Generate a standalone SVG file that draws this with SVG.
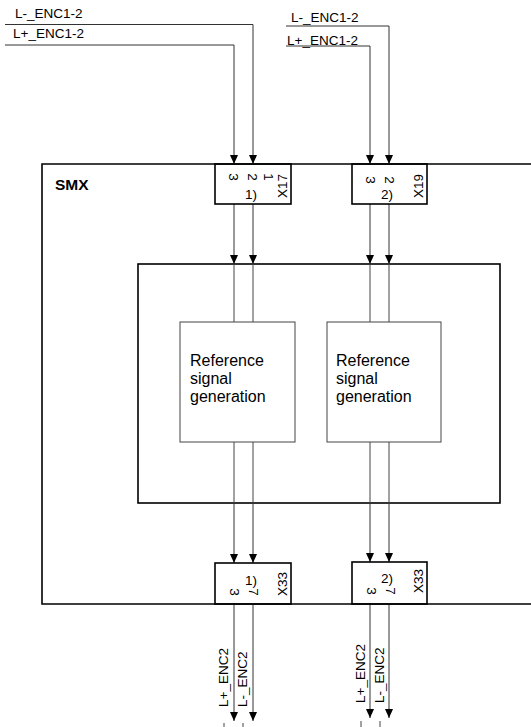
<svg xmlns="http://www.w3.org/2000/svg" width="531" height="727" viewBox="0 0 531 727">
<style>
text{font-family:"Liberation Sans",Arial,sans-serif;fill:#000}
.lbl{font-size:13.5px}
.pin{font-size:13.5px;text-anchor:middle;dominant-baseline:central}
.box{fill:none;stroke:#000;stroke-width:1.6}
.rbox{fill:#fff;stroke:#444;stroke-width:1}
.w{fill:none;stroke:#444;stroke-width:1}
.wa{fill:none;stroke:#333;stroke-width:1;marker-end:url(#arr)}
.ref{font-size:16px}
</style>
<defs>
<marker id="arr" viewBox="0 0 9 8" refX="9" refY="4" markerWidth="9" markerHeight="8" markerUnits="userSpaceOnUse" orient="auto">
<path d="M0,0 L9,4 L0,8 z" fill="#000"/>
</marker>
</defs>
<rect width="531" height="727" fill="#fff"/>

<g id="smx">
<path class="box" d="M560,164 H42 V604 H560"/>
<text x="55" y="190" style="font-size:15.5px;font-weight:bold">SMX</text>
</g>

<g id="middle">
<rect class="box" x="138" y="264" width="362" height="239"/>
</g>

<g id="connectors">
<path class="wa" d="M5,45 H234 V164"/>
<path class="wa" d="M5,24.5 H253 V164"/>
<path class="wa" d="M286,46 H370 V164"/>
<path class="wa" d="M286,26 H389 V164"/>
<path class="wa" d="M234,204 V264"/>
<path class="wa" d="M253,204 V264"/>
<path class="wa" d="M370,204 V264"/>
<path class="wa" d="M389,204 V264"/>
<path class="w" d="M234,264 V322 M253,264 V322 M370,264 V322 M389,264 V322"/>
<path class="w" d="M234,442 V503 M253,442 V503 M370,442 V503 M389,442 V503"/>
<path class="wa" d="M234,503 V563"/>
<path class="wa" d="M253,503 V563"/>
<path class="wa" d="M370,503 V562"/>
<path class="wa" d="M389,503 V562"/>
<path class="wa" d="M234,604 V721"/>
<path class="wa" d="M253,604 V721"/>
<path class="wa" d="M370,604 V718"/>
<path class="wa" d="M389,604 V718"/>
<path class="w" d="M224,723 V727 M243,723 V727 M361,721 V727 M380,721 V727"/>
</g>

<g id="in-labels">
<text class="lbl" x="15" y="18">L-_ENC1-2</text>
<text class="lbl" x="13" y="38">L+_ENC1-2</text>
<text class="lbl" x="291" y="21.5">L-_ENC1-2</text>
<text class="lbl" x="287" y="44.5">L+_ENC1-2</text>
</g>

<g id="x17">
<rect class="box" x="215" y="164" width="76" height="40" fill="#fff"/>
<text class="pin" transform="translate(233,177) rotate(90)">3</text>
<text class="pin" transform="translate(252,177) rotate(90)">2</text>
<text class="pin" transform="translate(268,177) rotate(90)">1</text>
<text class="pin" transform="translate(282,186) rotate(-90)">X17</text>
<text class="lbl" x="245" y="199">1)</text>
</g>

<g id="x19">
<rect class="box" x="352" y="164" width="75" height="40" fill="#fff"/>
<text class="pin" transform="translate(370,180) rotate(90)">3</text>
<text class="pin" transform="translate(389,180) rotate(90)">2</text>
<text class="pin" transform="translate(418,186) rotate(-90)">X19</text>
<text class="lbl" x="381" y="199">2)</text>
</g>

<g id="ref1">
<rect class="rbox" x="180" y="322" width="115" height="120"/>
<text class="ref" x="190" y="366">Reference</text>
<text class="ref" x="190" y="384">signal</text>
<text class="ref" x="190" y="402">generation</text>
</g>

<g id="ref2">
<rect class="rbox" x="327" y="322" width="114" height="120"/>
<text class="ref" x="336" y="366">Reference</text>
<text class="ref" x="336" y="384">signal</text>
<text class="ref" x="336" y="402">generation</text>
</g>

<g id="x33a">
<rect class="box" x="215" y="563" width="76" height="41" fill="#fff"/>
<text class="lbl" x="245" y="585">1)</text>
<text class="pin" transform="translate(234,592) rotate(90)">3</text>
<text class="pin" transform="translate(253,592) rotate(90)">7</text>
<text class="pin" transform="translate(282,584) rotate(-90)">X33</text>
</g>

<g id="x33b">
<rect class="box" x="352" y="562" width="75" height="42" fill="#fff"/>
<text class="lbl" x="381" y="583">2)</text>
<text class="pin" transform="translate(371,591) rotate(90)">3</text>
<text class="pin" transform="translate(390,591) rotate(90)">7</text>
<text class="pin" transform="translate(418,581) rotate(-90)">X33</text>
</g>

<g id="out-labels">
<text class="lbl" transform="translate(228,707) rotate(-90)">L+_ENC2</text>
<text class="lbl" transform="translate(247,707) rotate(-90)">L-_ENC2</text>
<text class="lbl" transform="translate(365,703) rotate(-90)">L+_ENC2</text>
<text class="lbl" transform="translate(384,703) rotate(-90)">L-_ENC2</text>
</g>
</svg>
